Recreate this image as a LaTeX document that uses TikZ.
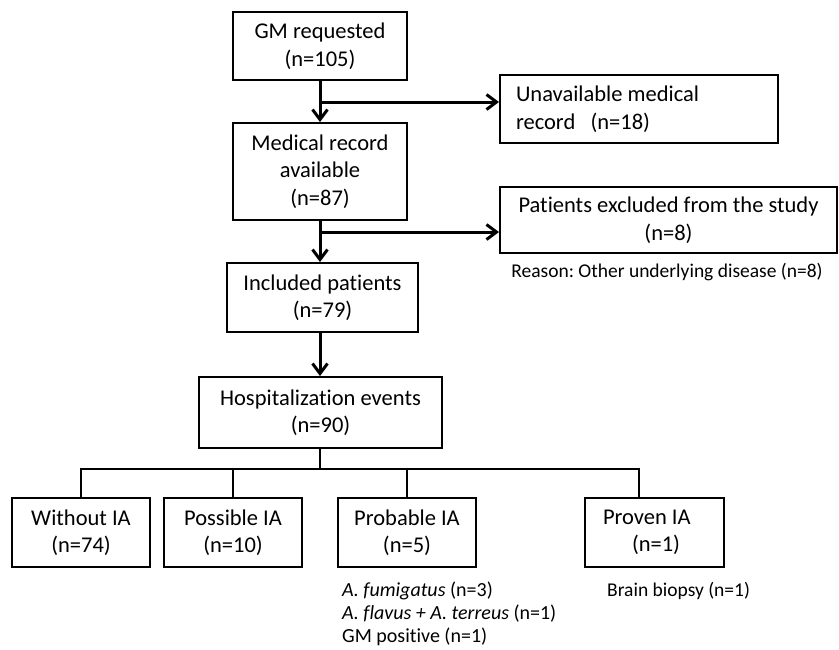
\documentclass[tikz,border=0pt]{standalone}
\usepackage{fontspec}
\setmainfont[Ligatures=NoCommon]{Carlito}
\usetikzlibrary{arrows.meta}
\frenchspacing
\begin{document}
\begin{tikzpicture}[x=1pt,y=-1pt,
  box/.style={draw, line width=2pt, rectangle, inner sep=0pt, align=center,
    font=\fontsize{22.5}{27.5}\selectfont},
  note/.style={inner sep=0pt, font=\fontsize{20}{23}\selectfont},
  arr/.style={line width=3pt, -{Straight Barb[length=10pt,width=15pt]}},
  link/.style={line width=2pt}]
\useasboundingbox (0,0) rectangle (839,649);
\node[box, minimum width=174pt, minimum height=68pt] (gm) at (320,46) {GM requested\\(n=105)};
\node[box, minimum width=174pt, minimum height=97pt] (med) at (320,171.5) {Medical record\\available\\(n=87)};
\node[box, minimum width=278pt, minimum height=68pt, text width=246pt, inner xsep=16pt, align=flush left] (unav) at (639,109) {Unavailable medical\\record\ \ \ (n=18)};
\node[box, minimum width=337pt, minimum height=66pt] (excl) at (668.5,220) {Patients excluded from the study\\(n=8)};
\node[note, font=\fontsize{19.5}{23}\selectfont] (reason) at (667,272) {Reason: Other underlying disease (n=8)};
\node[box, minimum width=191pt, minimum height=69pt] (incl) at (322.5,297.5) {Included patients\\(n=79)};
\node[box, minimum width=243pt, minimum height=71pt] (hosp) at (320.5,412.5) {Hospitalization events\\(n=90)};
\node[box, minimum width=138pt, minimum height=69pt] (without) at (81,532.5) {Without IA\\(n=74)};
\node[box, minimum width=138pt, minimum height=69pt] (possible) at (233,532.5) {Possible IA\\(n=10)};
\node[box, minimum width=138pt, minimum height=69pt] (probable) at (407,532.5) {Probable IA\\(n=5)};
\node[box, minimum width=139pt, minimum height=69pt, text width=121pt, inner xsep=9pt, align=flush left] (proven) at (654.5,532.5) {\hspace*{9pt}Proven IA\\\hspace*{38pt}(n=1)};
\node[note, anchor=north west, align=flush left] (probnote) at (342,582) {\textit{A. fumigatus} (n=3)\\\textit{A. flavus + A. terreus} (n=1)\\GM positive (n=1)};
\node[note, anchor=north west, font=\fontsize{19.5}{23}\selectfont] (provnote) at (607,582) {Brain biopsy (n=1)};
\coordinate (b1) at (320,102);
\coordinate (b2) at (320,232);
\coordinate (bus) at (320,469);
\draw[arr] (gm.south) -- (med.north);
\draw[arr] (b1) -- (b1 -| unav.west);
\draw[arr] (med.south) -- (med.south |- incl.north);
\draw[arr] (b2) -- (b2 -| excl.west);
\draw[arr] (320,332) -- (hosp.north -| 320,0);
\draw[link] (hosp.south -| bus) -- (bus);
\draw[link] (without.north) -- (without.north |- bus) -- (bus -| 639,0) -- (proven.north -| 639,0);
\draw[link] (possible.north) -- (possible.north |- bus);
\draw[link] (probable.north) -- (probable.north |- bus);
\end{tikzpicture}
\end{document}
